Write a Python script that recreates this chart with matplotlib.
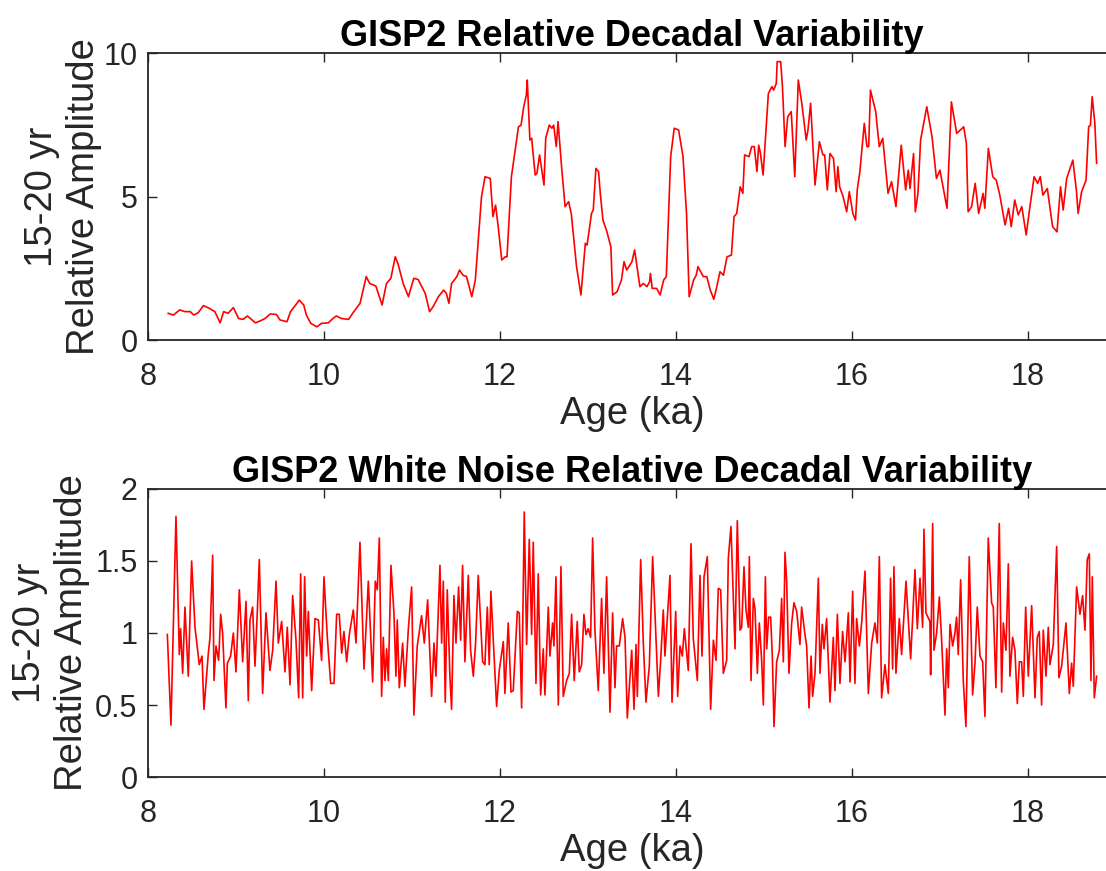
import matplotlib
matplotlib.use("Agg")
import matplotlib.pyplot as plt
from matplotlib.ticker import FixedLocator, FixedFormatter

plt.rcParams['font.family'] = ['Liberation Sans', 'DejaVu Sans']

# GISP2 relative decadal variability (15-20 yr band)
age_top = [8.23, 8.29, 8.36, 8.42, 8.48, 8.52, 8.57, 8.63, 8.70, 8.76, 8.82, 8.86, 8.91, 8.97, 9.03,
           9.08, 9.13, 9.22, 9.27, 9.33, 9.39, 9.46, 9.50, 9.58, 9.62, 9.72, 9.77, 9.80, 9.85, 9.92,
           9.97, 10.05, 10.09, 10.14, 10.20, 10.28, 10.33, 10.41, 10.48, 10.52, 10.59, 10.66, 10.71,
           10.76, 10.81, 10.84, 10.90, 10.96, 11.02, 11.07,
           11.15, 11.20, 11.24, 11.30, 11.36, 11.39, 11.42, 11.45, 11.51, 11.54, 11.58, 11.62, 11.68,
           11.72, 11.79, 11.83, 11.89, 11.92, 11.95, 11.98, 12.02, 12.06, 12.08, 12.13, 12.21, 12.24,
           12.27, 12.30, 12.31, 12.34, 12.36, 12.40, 12.42, 12.45, 12.47, 12.50, 12.52, 12.56, 12.59,
           12.61, 12.64, 12.66, 12.70, 12.74, 12.78, 12.81, 12.87, 12.92, 12.97, 12.99, 13.04, 13.06,
           13.09, 13.12, 13.14, 13.17, 13.21, 13.26, 13.28, 13.33, 13.38, 13.41, 13.44, 13.50, 13.53,
           13.59, 13.63, 13.67, 13.70, 13.71, 13.73, 13.78, 13.82, 13.86, 13.89, 13.94, 13.98, 14.03,
           14.08, 14.12, 14.15, 14.20, 14.23, 14.25,
           14.31, 14.35, 14.39, 14.43, 14.46, 14.50, 14.54, 14.58, 14.63, 14.66, 14.69, 14.73, 14.76,
           14.78, 14.83, 14.86, 14.89, 14.92, 14.94, 14.96, 14.99, 15.02, 15.05, 15.09, 15.11, 15.14,
           15.15, 15.19, 15.21, 15.24, 15.27, 15.31, 15.35, 15.39, 15.43, 15.48, 15.50, 15.53, 15.58,
           15.63, 15.67, 15.69, 15.72, 15.75, 15.79, 15.82, 15.84, 15.86, 15.90, 15.94, 15.97, 16.01,
           16.04, 16.06, 16.09, 16.14, 16.17, 16.19, 16.21, 16.27, 16.31, 16.35, 16.41, 16.45, 16.50,
           16.56, 16.61, 16.64, 16.66, 16.70, 16.72, 16.75, 16.78, 16.85, 16.91, 16.96, 17.00, 17.08,
           17.13, 17.19, 17.27, 17.30, 17.32, 17.36, 17.40, 17.44, 17.49, 17.51, 17.55, 17.60, 17.64,
           17.68, 17.74, 17.78, 17.81, 17.85, 17.89, 17.93, 17.98, 18.02, 18.07, 18.11, 18.14, 18.17,
           18.22, 18.28, 18.33, 18.37, 18.40, 18.44, 18.51, 18.55, 18.57, 18.61, 18.66, 18.69, 18.71,
           18.73, 18.76, 18.78]
amp_top = [0.93, 0.87, 1.05, 0.99, 0.99, 0.87, 0.95, 1.20, 1.10, 0.99, 0.60, 0.99, 0.93, 1.13, 0.75,
           0.72, 0.84, 0.60, 0.66, 0.75, 0.91, 0.89, 0.70, 0.64, 0.99, 1.39, 1.22, 0.87, 0.58, 0.46,
           0.58, 0.60, 0.72, 0.84, 0.75, 0.72, 0.95, 1.28, 2.21, 1.97, 1.88, 1.22, 1.97, 2.15, 2.90,
           2.67, 1.97, 1.51, 2.15, 2.11,
           1.63, 0.99, 1.16, 1.51, 1.74, 1.63, 1.28, 1.97, 2.21, 2.44, 2.26, 2.21, 1.51, 2.09, 4.99,
           5.69, 5.63, 4.30, 4.70, 3.95, 2.79, 2.90, 2.90, 5.69, 7.43, 7.49, 8.13, 8.54, 9.06, 6.97,
           7.03, 5.75, 5.81, 6.45, 6.04, 5.40, 7.03, 7.49, 7.38, 7.49, 6.74, 7.61, 6.04, 4.65, 4.82,
           4.41, 2.56, 1.57, 3.37, 3.31, 4.41, 4.53, 5.98, 5.87, 5.11, 4.18, 3.83, 3.25, 1.57, 1.68,
           2.09, 2.73, 2.44, 2.73, 3.14, 1.86, 1.97, 1.86, 2.03, 2.32, 1.80, 1.80, 1.57, 2.09, 2.21,
           6.39, 7.38, 7.32, 6.39, 4.41, 1.51, 2.09, 2.26, 2.56,
           2.21, 2.21, 1.74, 1.42, 1.80, 2.38, 2.26, 2.90, 2.96, 4.30, 4.41, 5.34, 5.11, 6.45, 6.39,
           6.74, 6.74, 5.87, 6.79, 6.50, 5.75, 7.20, 8.59, 8.83, 8.71, 8.94, 9.70, 9.70, 8.83, 6.74,
           7.78, 7.96, 5.69, 9.06, 8.25, 6.97, 7.32, 8.25, 5.40, 6.91, 6.45, 6.45, 5.23, 6.50, 6.33,
           5.17, 6.04, 5.34, 4.99, 4.47, 5.17, 4.41, 4.18, 5.23, 5.87, 7.55, 6.74, 6.74, 8.71, 7.96,
           6.74, 7.03, 5.11, 5.52, 4.65, 6.79, 5.23, 5.92, 5.28, 6.50, 4.47, 5.11, 6.97, 8.13, 7.08,
           5.63, 5.92, 4.59, 8.30, 7.20, 7.43, 6.85, 4.47, 4.65, 5.46, 4.41, 5.11, 4.59, 6.68, 5.69,
           5.57, 5.05, 4.01, 4.59, 3.95, 4.88, 4.36, 4.65, 3.66, 4.59, 5.69, 5.46, 5.69, 5.05, 5.28,
           3.95, 3.77, 5.34, 4.53, 5.63, 6.27, 5.23, 4.41, 5.17, 5.57, 7.43, 7.49, 8.48, 7.55, 6.16]

# white noise version
age_wn = [8.220, 8.261, 8.318, 8.356, 8.371, 8.394, 8.420, 8.458, 8.496, 8.534, 8.583, 8.614, 8.636,
          8.686, 8.705, 8.735, 8.750, 8.773, 8.803, 8.826, 8.848, 8.886, 8.902, 8.939, 8.970, 9.000,
          9.038, 9.076, 9.114, 9.140, 9.159, 9.189, 9.216, 9.242, 9.265, 9.303, 9.341, 9.386, 9.417,
          9.455, 9.481, 9.519, 9.557, 9.583, 9.614, 9.644, 9.682, 9.712, 9.735, 9.758, 9.780, 9.803,
          9.822, 9.860, 9.898, 9.936, 9.973, 10.000, 10.038, 10.076, 10.114, 10.144, 10.174, 10.201,
          10.227, 10.258, 10.288, 10.333, 10.364, 10.409, 10.455, 10.504, 10.553, 10.583, 10.606,
          10.629,
          10.655, 10.674, 10.693, 10.712, 10.731, 10.761, 10.795, 10.818, 10.833, 10.856, 10.894,
          10.920, 10.958, 10.996, 11.022, 11.060, 11.109, 11.140, 11.178, 11.223, 11.250, 11.272,
          11.318, 11.337, 11.356, 11.378, 11.401, 11.431, 11.450, 11.477, 11.500, 11.530, 11.553,
          11.575, 11.602, 11.640, 11.666, 11.697, 11.723, 11.753, 11.803, 11.829, 11.856, 11.878,
          11.897, 11.924, 11.962, 11.992, 12.038, 12.056, 12.094, 12.125, 12.151, 12.197, 12.219,
          12.246, 12.276, 12.303, 12.333, 12.360, 12.378, 12.409, 12.435, 12.462, 12.492, 12.511,
          12.549, 12.568, 12.598, 12.613, 12.636, 12.663, 12.693, 12.719, 12.757, 12.788, 12.814,
          12.844, 12.878, 12.901, 12.928, 12.954, 12.977, 13.003, 13.030, 13.053, 13.079, 13.117,
          13.155, 13.181, 13.212, 13.250, 13.280, 13.307, 13.325, 13.356,
          13.394, 13.421, 13.447, 13.497, 13.523, 13.546, 13.561, 13.599, 13.629, 13.659, 13.697,
          13.735, 13.800, 13.826, 13.856, 13.875, 13.932, 13.955, 13.997, 14.019, 14.046, 14.072,
          14.095, 14.140, 14.171, 14.197, 14.243, 14.273, 14.296, 14.319, 14.356, 14.394, 14.425,
          14.455, 14.481, 14.508, 14.538, 14.576, 14.595, 14.625, 14.671, 14.697, 14.728, 14.747,
          14.773, 14.796, 14.822, 14.834, 14.853, 14.879, 14.898, 14.925, 14.947, 14.974, 14.993,
          15.016, 15.031, 15.053, 15.076, 15.095, 15.114, 15.144, 15.175, 15.201, 15.220, 15.239,
          15.258, 15.284, 15.315, 15.341, 15.372, 15.409, 15.428, 15.466, 15.485, 15.512, 15.535,
          15.553, 15.580, 15.618, 15.637, 15.663, 15.682, 15.712, 15.750, 15.788, 15.807, 15.834,
          15.864, 15.894, 15.921, 15.959, 15.978, 16.008, 16.034, 16.053, 16.084, 16.110,
          16.148, 16.186, 16.224, 16.261, 16.288, 16.311, 16.337, 16.375, 16.413, 16.439, 16.462,
          16.477, 16.500, 16.538, 16.564, 16.614, 16.667, 16.716, 16.743, 16.773, 16.803, 16.818,
          16.841, 16.886, 16.894, 16.917, 16.932, 16.962, 16.993, 17.019, 17.057, 17.076, 17.095,
          17.114, 17.144, 17.170, 17.189, 17.208, 17.235, 17.265, 17.295, 17.333, 17.371, 17.398,
          17.424, 17.455, 17.485, 17.511, 17.549, 17.587, 17.606, 17.636, 17.674, 17.701, 17.720,
          17.750, 17.777, 17.795, 17.826, 17.852, 17.879, 17.902, 17.928, 17.947, 17.974, 18.004,
          18.042, 18.080, 18.106, 18.129, 18.155, 18.174, 18.205, 18.231, 18.250, 18.288, 18.326,
          18.352, 18.383, 18.432, 18.470, 18.496, 18.515, 18.553, 18.591, 18.621, 18.648, 18.674,
          18.697, 18.716, 18.731, 18.754, 18.780]
amp_wn = [0.99, 0.36, 1.81, 0.85, 1.03, 0.72, 1.18, 0.70, 1.50, 1.04, 0.78, 0.84, 0.47,
          0.86, 0.97, 1.54, 0.67, 0.91, 0.81, 1.13, 1.00, 0.48, 0.79, 0.84, 1.00, 0.73,
          1.30, 0.80, 1.22, 0.53, 1.09, 1.18, 0.77, 1.14, 1.51, 0.58, 1.14, 0.74, 0.88,
          1.36, 0.93, 1.08, 0.73, 1.04, 0.64, 1.26, 0.95, 0.55, 1.41, 0.55, 1.39, 0.84,
          1.15, 0.60, 1.10, 1.09, 0.81, 1.39, 0.97, 0.65, 0.65, 1.13, 1.13, 0.86,
          1.01, 0.80, 0.99, 1.16, 0.93, 1.63, 0.75, 1.36, 0.66, 1.36, 1.30,
          1.66,
          0.56, 0.97, 0.67, 0.89, 0.67, 1.47, 1.14, 0.70, 1.09, 0.62, 0.93,
          0.63, 1.02, 1.32, 0.43, 0.91, 1.12, 0.93, 1.23, 0.56, 0.93, 0.70,
          1.47, 0.93, 1.36, 0.52, 1.30, 0.70, 0.47, 1.26, 0.93, 1.32, 0.95,
          1.47, 0.80, 1.40, 0.88, 0.70, 0.93, 1.40, 0.80, 0.78, 1.18, 0.78,
          1.29, 0.95, 0.49, 0.74, 0.94, 0.58, 1.07, 0.59, 0.60, 1.15, 1.14,
          0.48, 1.84, 0.92, 1.65, 0.99, 1.63, 0.65, 1.41, 0.57, 0.89, 0.57,
          1.18, 0.84, 1.07, 0.91, 1.39, 0.50, 1.46, 0.56, 0.67, 0.72, 1.13,
          0.67, 1.08, 0.73, 0.78, 1.13, 0.99, 1.03, 0.97, 1.66, 1.02, 0.60,
          1.24, 0.72, 1.39, 0.45, 1.14, 0.62, 0.91, 0.91,
          1.10, 0.97, 0.41, 0.88, 0.47, 0.92, 0.56, 1.51, 0.93, 0.52, 0.77,
          1.53, 0.56, 0.81, 1.16, 0.84, 1.40, 0.52, 1.15, 0.56, 0.91, 0.84,
          1.03, 0.74, 1.62, 0.96, 0.67, 1.40, 0.84, 1.39, 1.53, 0.47, 0.95,
          0.81, 1.31, 1.30, 0.72, 0.81, 1.52, 1.74, 0.89, 1.78, 1.02, 1.04,
          1.46, 1.16, 1.04, 1.53, 0.67, 1.24, 1.17, 0.72, 1.07, 0.81, 0.50,
          1.39, 0.89, 1.11, 1.11, 0.84, 0.35, 0.80, 0.88, 1.24, 0.80, 1.56,
          1.36, 0.72, 1.07, 1.21, 1.15, 0.92, 1.18, 0.99, 0.91, 0.48, 0.84,
          0.56, 0.72, 1.38, 0.72, 1.06, 0.89, 1.10, 0.52, 0.97, 0.60, 1.13,
          0.65, 1.01, 0.80, 1.14, 0.66, 1.29, 0.65, 1.10, 0.91, 1.07,
          1.43, 0.58, 0.93, 1.07, 0.93, 1.53, 0.55, 0.78, 0.58, 1.38, 0.75,
          1.46, 0.72, 1.10, 0.85, 1.36, 0.82, 1.44, 1.03, 1.38, 1.04, 1.72,
          1.14, 1.08, 0.71, 1.76, 0.88, 1.00, 1.25, 0.95, 0.43, 0.89, 0.62,
          1.06, 0.91, 1.00, 1.11, 0.85, 1.37, 0.67, 0.35, 1.53, 0.57, 0.79,
          1.18, 0.84, 0.80, 0.42, 1.66, 1.21, 1.18, 0.62, 1.76, 0.59, 1.07,
          0.88, 1.48, 0.70, 0.97, 0.88, 0.51, 0.80, 0.80, 0.56, 1.18, 0.70,
          1.19, 0.55, 0.97, 1.01, 0.50, 1.02, 0.70, 1.04, 0.78, 0.92, 1.60,
          0.69, 0.77, 1.07, 0.58, 0.79, 0.63, 1.32, 1.13, 1.26, 1.02, 1.51,
          1.55, 0.67, 1.39, 0.55, 0.70]

xticks = [8, 10, 12, 14, 16, 18]
xtick_labels = ['8', '10', '12', '14', '16', '18']
yticks_top = [0, 5, 10]
ytick_labels_top = ['0', '5', '10']
yticks_wn = [0, 0.5, 1, 1.5, 2]
ytick_labels_wn = ['0', '0.5', '1', '1.5', '2']

titles = ['GISP2 Relative Decadal Variability', 'GISP2 White Noise Relative Decadal Variability']
ylabel = '15-20 yr\nRelative Amplitude'
xlabel = 'Age (ka)'

dark = '#262626'

fig = plt.figure(figsize=(11.06, 8.71), dpi=100)
ax1 = fig.add_axes([0.1338, 0.6096, 0.8752, 0.3295])
ax2 = fig.add_axes([0.1338, 0.1079, 0.8752, 0.3307])

panels = [
    (ax1, age_top, amp_top, (0, 10), yticks_top, ytick_labels_top, titles[0], -0.048),
    (ax2, age_wn, amp_wn, (0, 2), yticks_wn, ytick_labels_wn, titles[1], -0.06),
]

for ax, x, y, ylim, yt, ytl, title, ylab_x in panels:
    ax.plot(x, y, color='red', lw=1.2)
    ax.set_xlim(8, 19)
    ax.set_ylim(*ylim)
    ax.xaxis.set_major_locator(FixedLocator(xticks))
    ax.xaxis.set_major_formatter(FixedFormatter(xtick_labels))
    ax.yaxis.set_major_locator(FixedLocator(yt))
    ax.yaxis.set_major_formatter(FixedFormatter(ytl))
    ax.tick_params(direction='in', length=6.5, width=1.0, colors=dark, labelsize=22,
                   top=True, right=True)
    ax.tick_params(axis='x', pad=16)
    ax.tick_params(axis='y', pad=7.5)
    for s in ax.spines.values():
        s.set_color(dark)
        s.set_linewidth(1.3)
    ax.set_title(title, fontsize=26, fontweight='bold', pad=5)
    ax.set_xlabel(xlabel, fontsize=27.5, color=dark, labelpad=2.5)
    ax.set_ylabel(ylabel, fontsize=27.5, color=dark, linespacing=1.2)
    ax.yaxis.set_label_coords(ylab_x, 0.5)

fig.savefig('out.png', dpi=100)
